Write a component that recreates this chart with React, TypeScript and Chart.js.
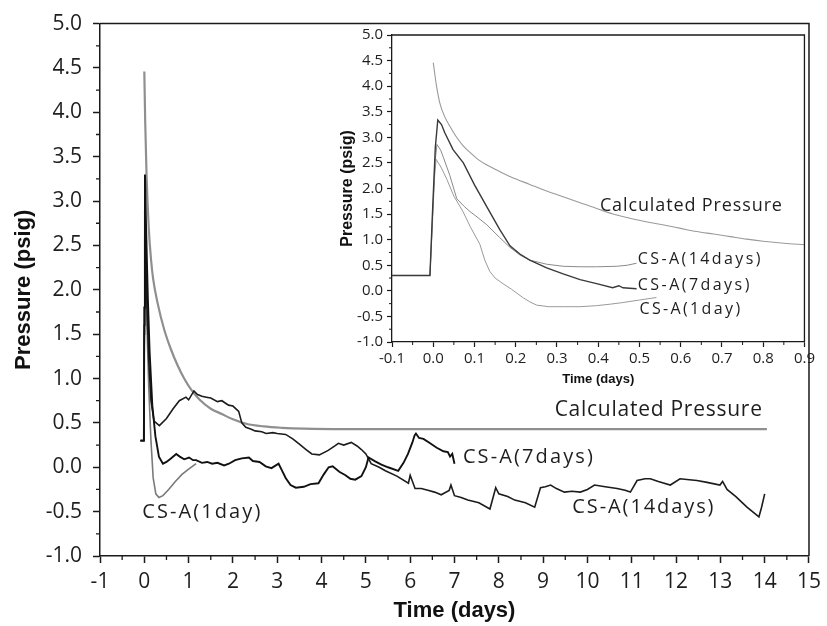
import React, { useEffect, useRef } from "react";
import { Chart, registerables } from "chart.js";

Chart.register(...registerables);

// ---------- Main chart data (time in days, pressure in psig) ----------
const calcDays = [0, 0.02, 0.05, 0.1, 0.15, 0.2, 0.3, 0.45, 0.6, 0.75, 0.9, 1.05, 1.25, 1.5, 1.75, 2.0, 2.3, 2.7, 3.1, 3.6, 4.5, 6, 8, 10, 12, 14.05];
const calcPsig = [4.46, 3.9, 3.3, 2.7, 2.35, 2.12, 1.85, 1.55, 1.33, 1.15, 1.0, 0.88, 0.76, 0.66, 0.6, 0.54, 0.49, 0.46, 0.445, 0.435, 0.43, 0.43, 0.43, 0.43, 0.43, 0.43];

const oneDayDays = [-0.08, -0.01, 0.0, 0.01, 0.03, 0.06, 0.1, 0.15, 0.2, 0.26, 0.33, 0.42, 0.55, 0.7, 0.85, 1.0, 1.17];
const oneDayPsig = [0.3, 0.3, 1.5, 2.6, 2.2, 1.6, 0.9, 0.3, -0.12, -0.3, -0.34, -0.32, -0.25, -0.16, -0.08, -0.02, 0.04];

const sevenDayDays = [
  -0.09, -0.01, 0.0, 0.015, 0.04, 0.08, 0.12, 0.18, 0.25, 0.33,
  0.42, 0.5, 0.6, 0.72, 0.8, 0.9, 1.01, 1.1, 1.17, 1.3,
  1.42, 1.53, 1.65, 1.8, 1.91, 2.05, 2.2, 2.36, 2.45, 2.6,
  2.74, 2.87, 3.03, 3.1, 3.19, 3.3, 3.42, 3.6, 3.75, 3.93,
  4.05, 4.16, 4.25, 4.4, 4.54, 4.65, 4.76, 4.9, 5.0, 5.06,
  5.2, 5.35, 5.5, 5.73, 5.85, 5.95, 6.05, 6.1, 6.13, 6.2,
  6.3, 6.45, 6.6, 6.75, 6.85, 6.9, 6.95, 7.0,
];
const sevenDayPsig = [
  0.3, 0.3, 1.8, 3.3, 2.7, 1.9, 1.3, 0.7, 0.35, 0.12,
  0.04, 0.06, 0.1, 0.15, 0.12, 0.09, 0.11, 0.08, 0.08, 0.05,
  0.06, 0.04, 0.05, 0.02, 0.04, 0.08, 0.1, 0.11, 0.07, 0.06,
  0.01, -0.01, 0.04, -0.03, -0.12, -0.2, -0.23, -0.22, -0.19, -0.18,
  -0.08, 0.0, 0.01, -0.05, -0.09, -0.13, -0.14, -0.1, 0.0, 0.11,
  0.07, 0.03, 0.0, -0.04, 0.05, 0.15, 0.28, 0.36, 0.38, 0.33,
  0.32, 0.27, 0.22, 0.18, 0.17, 0.12, 0.15, 0.04,
];

const fourteenDayDays = [
  -0.09, -0.01, 0.0, 0.01, 0.03, 0.06, 0.1, 0.15, 0.22, 0.34,
  0.5, 0.65, 0.79, 0.94, 1.0, 1.12, 1.2, 1.3, 1.4, 1.5,
  1.65, 1.75, 1.9, 2.0, 2.13, 2.2, 2.29, 2.4, 2.5, 2.65,
  2.75, 2.9, 3.0, 3.19, 3.35, 3.5, 3.65, 3.78, 3.95, 4.15,
  4.3, 4.38, 4.5, 4.67, 4.8, 4.9, 5.0, 5.12, 5.3, 5.44,
  5.7, 5.96, 6.0, 6.11, 6.25, 6.4, 6.55, 6.7, 6.88, 6.92,
  7.0, 7.15, 7.3, 7.55, 7.8, 7.93, 8.0, 8.2, 8.36, 8.6,
  8.81, 8.94, 9.05, 9.17, 9.3, 9.48, 9.65, 9.84, 10.0, 10.16,
  10.4, 10.67, 10.85, 10.97, 11.12, 11.3, 11.42, 11.6, 11.87, 12.09,
  12.3, 12.47, 12.7, 12.99, 13.05, 13.15, 13.35, 13.6, 13.87, 13.93,
  14.0,
];
const fourteenDayPsig = [
  0.3, 0.3, 1.6, 2.9, 2.4, 1.8, 1.2, 0.75, 0.52, 0.47,
  0.55, 0.66, 0.75, 0.79, 0.76, 0.86, 0.82, 0.8, 0.79, 0.78,
  0.74, 0.75, 0.7, 0.69, 0.63, 0.5, 0.45, 0.43, 0.41, 0.4,
  0.38, 0.39, 0.38, 0.37, 0.32, 0.26, 0.2, 0.15, 0.14, 0.19,
  0.24, 0.27, 0.25, 0.28, 0.24, 0.2, 0.15, 0.04, 0.0, -0.04,
  -0.1, -0.18, -0.09, -0.24, -0.24, -0.26, -0.28, -0.31, -0.26, -0.2,
  -0.32, -0.34, -0.37, -0.4, -0.47, -0.23, -0.3, -0.33, -0.37, -0.4,
  -0.45, -0.23, -0.22, -0.2, -0.24, -0.28, -0.27, -0.28, -0.25, -0.2,
  -0.22, -0.24, -0.26, -0.28, -0.15, -0.13, -0.13, -0.16, -0.2, -0.13,
  -0.14, -0.15, -0.17, -0.2, -0.16, -0.25, -0.33, -0.45, -0.56, -0.45,
  -0.3,
];

// ---------- Inset data (first day) ----------
const insetCalcDays = [0, 0.008, 0.016, 0.028, 0.04, 0.055, 0.072, 0.09, 0.11, 0.13, 0.154, 0.19, 0.234, 0.275, 0.315, 0.356, 0.396, 0.436, 0.476, 0.516, 0.556, 0.6, 0.638, 0.68, 0.72, 0.76, 0.8, 0.85, 0.9];
const insetCalcPsig = [4.46, 4.0, 3.67, 3.4, 3.22, 3.02, 2.84, 2.7, 2.56, 2.46, 2.36, 2.22, 2.08, 1.95, 1.84, 1.72, 1.61, 1.5, 1.42, 1.35, 1.29, 1.22, 1.16, 1.11, 1.06, 1.01, 0.97, 0.93, 0.9];

const insetSevenDays = [-0.1, -0.008, -0.002, 0.005, 0.011, 0.02, 0.028, 0.048, 0.073, 0.1, 0.13, 0.161, 0.186, 0.21, 0.234, 0.275, 0.315, 0.356, 0.396, 0.435, 0.45, 0.46, 0.493];
const insetSevenPsig = [0.3, 0.3, 1.5, 2.8, 3.34, 3.25, 3.09, 2.76, 2.5, 2.07, 1.64, 1.2, 0.88, 0.72, 0.6, 0.45, 0.33, 0.22, 0.14, 0.06, 0.1, 0.06, 0.04];

const insetFourteenDays = [-0.1, -0.008, -0.002, 0.004, 0.009, 0.018, 0.025, 0.04, 0.057, 0.075, 0.089, 0.11, 0.13, 0.16, 0.186, 0.21, 0.234, 0.275, 0.315, 0.356, 0.396, 0.445, 0.47, 0.493];
const insetFourteenPsig = [0.3, 0.3, 1.4, 2.5, 2.86, 2.75, 2.6, 2.26, 1.8, 1.65, 1.55, 1.42, 1.29, 1.05, 0.85, 0.7, 0.6, 0.52, 0.48, 0.47, 0.47, 0.48, 0.5, 0.54];

const insetOneDays = [-0.1, -0.008, -0.002, 0.003, 0.007, 0.02, 0.033, 0.05, 0.072, 0.09, 0.113, 0.125, 0.137, 0.15, 0.169, 0.19, 0.217, 0.235, 0.251, 0.28, 0.315, 0.356, 0.396, 0.43, 0.459, 0.5, 0.541];
const insetOnePsig = [0.3, 0.3, 1.3, 2.2, 2.57, 2.4, 2.18, 1.85, 1.55, 1.25, 0.91, 0.6, 0.38, 0.25, 0.14, 0.03, -0.13, -0.22, -0.28, -0.31, -0.31, -0.31, -0.29, -0.26, -0.23, -0.18, -0.13];

// ---------- Axis ranges / labels ----------
const mainXRange = [-1, 15];
const mainYRange = [-1, 5];
const insetXRange = [-0.1, 0.9];
const insetYRange = [-1, 5];
const xTitle = "Time (days)";
const yTitle = "Pressure (psig)";

const toPoints = (xs: number[], ys: number[]) => xs.map((x, i) => ({ x, y: ys[i] }));

const AXIS = "#1a1a1a";
const TEXT = "#1e1e1e";

const decoPlugin = {
  id: "deco",
  afterDraw(chart: any, _args: any, opts: any) {
    const { ctx, chartArea } = chart;
    const { left, right, top, bottom } = chartArea;
    const xs = chart.scales.x;
    const ys = chart.scales.y;
    ctx.save();
    ctx.strokeStyle = AXIS;
    ctx.lineWidth = opts.frameWidth;
    ctx.beginPath();
    ctx.moveTo(left, top);
    ctx.lineTo(right, top);
    ctx.lineTo(right, bottom);
    ctx.stroke();
    // minor ticks
    ctx.lineWidth = opts.minorWidth;
    ctx.beginPath();
    const ny = Math.round((ys.max - ys.min) / opts.yMinor);
    for (let i = 1; i < ny; i += 2) {
      const py = ys.getPixelForValue(ys.min + i * opts.yMinor);
      ctx.moveTo(left - opts.minorLen, py);
      ctx.lineTo(left, py);
    }
    const nx = Math.round((xs.max - xs.min) / opts.xMinor);
    for (let i = 1; i < nx; i += 2) {
      const px = xs.getPixelForValue(xs.min + i * opts.xMinor);
      ctx.moveTo(px, bottom);
      ctx.lineTo(px, bottom + opts.minorLen);
    }
    ctx.stroke();
    // curve labels
    ctx.fillStyle = TEXT;
    ctx.textBaseline = "middle";
    ctx.textAlign = "left";
    for (const l of opts.labels) {
      ctx.font = `${l.size}px "Open Sans"`;
      (ctx as any).letterSpacing = "0px";
      const natural = ctx.measureText(l.text).width;
      const sp = (l.width - natural) / l.text.length;
      (ctx as any).letterSpacing = `${sp.toFixed(2)}px`;
      ctx.fillText(l.text, xs.getPixelForValue(l.x), ys.getPixelForValue(l.y));
    }
    ctx.restore();
  },
};

function lineDs(label: string, pts: any[], color: string, width: number, smooth = false) {
  return {
    label,
    data: pts,
    borderColor: color,
    borderWidth: width,
    pointRadius: 0,
    fill: false,
    tension: 0,
    cubicInterpolationMode: smooth ? "monotone" : "default",
  };
}

export default function App() {
  const mainRef = useRef<HTMLCanvasElement>(null);
  const insetRef = useRef<HTMLCanvasElement>(null);

  useEffect(() => {
    const mainChart = new Chart(mainRef.current as HTMLCanvasElement, {
      type: "line",
      data: {
        datasets: [
          lineDs("CS-A(7days)", toPoints(sevenDayDays, sevenDayPsig), "#111111", 1.9),
          lineDs("CS-A(14days)", toPoints(fourteenDayDays, fourteenDayPsig), "#1c1c1c", 1.6),
          lineDs("CS-A(1day)", toPoints(oneDayDays, oneDayPsig), "#7a7a7a", 1.6),
          lineDs("Calculated Pressure", toPoints(calcDays, calcPsig), "#8f8f8f", 2.2, true),
        ] as any,
      },
      options: {
        responsive: false,
        devicePixelRatio: 1,
        animation: false,
        events: [],
        layout: { padding: { left: 0, top: 20, right: 13, bottom: 0 } },
        plugins: {
          legend: { display: false },
          tooltip: { enabled: false },
          deco: {
            frameWidth: 1.5,
            minorWidth: 1.3,
            minorLen: 4,
            xMinor: 0.5,
            yMinor: 0.25,
            labels: [
              { text: "Calculated Pressure", x: 9.26, y: 0.646, size: 21, width: 208 },
              { text: "CS-A(7days)", x: 7.19, y: 0.109, size: 20, width: 132 },
              { text: "CS-A(14days)", x: 9.66, y: -0.45, size: 20, width: 143 },
              { text: "CS-A(1day)", x: -0.045, y: -0.507, size: 20, width: 120 },
            ],
          },
        } as any,
        scales: {
          x: {
            type: "linear",
            min: mainXRange[0],
            max: mainXRange[1],
            ticks: {
              stepSize: 1,
              autoSkip: false,
              maxRotation: 0,
              padding: 6,
              color: TEXT,
              font: { family: "Open Sans", size: 21 },
              callback: (v: any) => String(v),
            },
            grid: { drawOnChartArea: false, tickLength: 7, tickColor: AXIS, tickWidth: 1.5, color: AXIS },
            border: { display: true, color: AXIS, width: 1.5 },
            title: {
              display: true,
              text: xTitle,
              color: "#111",
              font: { family: "Liberation Sans", weight: "bold", size: 22 },
              padding: { top: 0, bottom: 2 },
            },
            afterFit: (s: any) => {
              s.height = 70;
            },
          },
          y: {
            type: "linear",
            min: mainYRange[0],
            max: mainYRange[1],
            ticks: {
              stepSize: 0.5,
              autoSkip: false,
              padding: 11,
              color: TEXT,
              font: { family: "Open Sans", size: 21 },
              callback: (v: any) => Number(v).toFixed(1),
            },
            grid: { drawOnChartArea: false, tickLength: 7, tickColor: AXIS, tickWidth: 1.5, color: AXIS },
            border: { display: true, color: AXIS, width: 1.5 },
            title: {
              display: true,
              text: yTitle,
              color: "#111",
              font: { family: "Liberation Sans", weight: "bold", size: 22 },
              padding: { top: 11, bottom: 0 },
            },
            afterFit: (s: any) => {
              s.width = 100;
            },
          },
        },
      } as any,
      plugins: [decoPlugin],
    });

    const insetChart = new Chart(insetRef.current as HTMLCanvasElement, {
      type: "line",
      data: {
        datasets: [
          lineDs("CS-A(7days)", toPoints(insetSevenDays, insetSevenPsig), "#3a3a3a", 1.4),
          lineDs("CS-A(14days)", toPoints(insetFourteenDays, insetFourteenPsig), "#8a8a8a", 1),
          lineDs("CS-A(1day)", toPoints(insetOneDays, insetOnePsig), "#9a9a9a", 1),
          lineDs("Calculated Pressure", toPoints(insetCalcDays, insetCalcPsig), "#9a9a9a", 1.1, true),
        ] as any,
      },
      options: {
        responsive: false,
        devicePixelRatio: 1,
        animation: false,
        events: [],
        layout: { padding: { left: 0, top: 9, right: 13, bottom: 0 } },
        plugins: {
          legend: { display: false },
          tooltip: { enabled: false },
          deco: {
            frameWidth: 1.3,
            minorWidth: 1,
            minorLen: 3,
            xMinor: 0.05,
            yMinor: 0.25,
            labels: [
              { text: "Calculated Pressure", x: 0.404, y: 1.66, size: 18, width: 183 },
              { text: "CS-A(14days)", x: 0.496, y: 0.62, size: 16, width: 125 },
              { text: "CS-A(7days)", x: 0.496, y: 0.1, size: 16, width: 114 },
              { text: "CS-A(1day)", x: 0.5, y: -0.36, size: 16, width: 103 },
            ],
          },
        } as any,
        scales: {
          x: {
            type: "linear",
            min: insetXRange[0],
            max: insetXRange[1],
            ticks: {
              stepSize: 0.1,
              autoSkip: false,
              maxRotation: 0,
              padding: 3,
              color: TEXT,
              font: { family: "Open Sans", size: 15 },
              callback: (v: any) => Number(v).toFixed(1),
            },
            grid: { drawOnChartArea: false, tickLength: 5, tickColor: AXIS, tickWidth: 1.2, color: AXIS },
            border: { display: true, color: AXIS, width: 1.3 },
            title: {
              display: true,
              text: xTitle,
              color: "#111",
              font: { family: "Liberation Sans", weight: "bold", size: 13 },
              padding: { top: 0, bottom: 5 },
            },
            afterFit: (s: any) => {
              s.height = 50;
            },
          },
          y: {
            type: "linear",
            min: insetYRange[0],
            max: insetYRange[1],
            ticks: {
              stepSize: 0.5,
              autoSkip: false,
              padding: 4,
              color: TEXT,
              font: { family: "Open Sans", size: 15 },
              callback: (v: any) => Number(v).toFixed(1),
            },
            grid: { drawOnChartArea: false, tickLength: 5, tickColor: AXIS, tickWidth: 1.2, color: AXIS },
            border: { display: true, color: AXIS, width: 1.3 },
            title: {
              display: true,
              text: yTitle,
              color: "#111",
              font: { family: "Liberation Sans", weight: "bold", size: 16 },
              padding: { top: 8, bottom: 0 },
            },
            afterFit: (s: any) => {
              s.width = 62;
            },
          },
        },
      } as any,
      plugins: [decoPlugin],
    });

    return () => {
      mainChart.destroy();
      insetChart.destroy();
    };
  }, []);

  return (
    <div style={{ position: "fixed", left: 0, top: 0, width: 827, height: 626, background: "#ffffff" }}>
      <canvas ref={mainRef} width={827} height={626} style={{ position: "absolute", left: 0, top: 0, width: 827, height: 626 }} />
      <canvas ref={insetRef} width={488} height={370} style={{ position: "absolute", left: 330, top: 22, width: 488, height: 370 }} />
    </div>
  );
}
